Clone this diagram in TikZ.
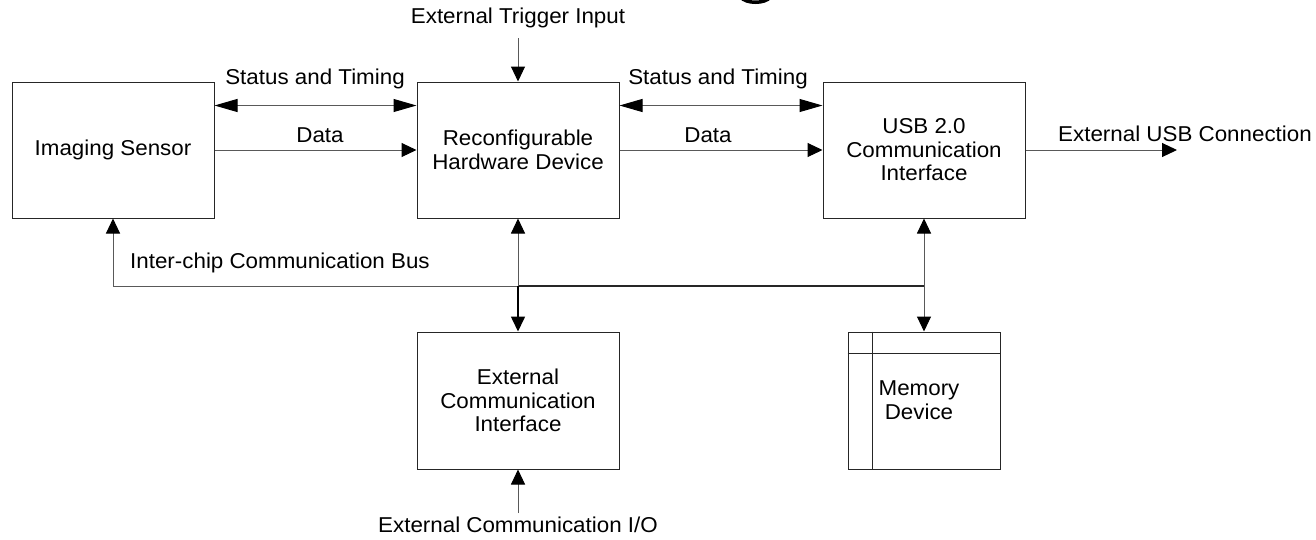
\documentclass[tikz,border=0pt]{standalone}
\usepackage{fontspec}
\setmainfont{Liberation Sans}[FakeStretch=1.04]
\usetikzlibrary{arrows.meta}
\newcommand\lblfont{\fontsize{21.5}{23.5}\selectfont}
\begin{document}
\begin{tikzpicture}[x=1pt,y=-1pt,
  box/.style={draw=black!85, line width=1pt, minimum width=202pt, minimum height=136pt, inner sep=0pt, align=center, font=\lblfont},
  lbl/.style={inner sep=0pt, align=center, font=\lblfont},
  conn/.style={draw=black!65, line width=1pt},
  darkconn/.style={draw=black, line width=1.6pt},
  tip/.tip={Triangle[length=15pt,width=14pt,color=black]},
  stip/.tip={Triangle[length=23pt,width=13pt,color=black]}]
\useasboundingbox (0,0) rectangle (1316,539);
% cut-off fragment of the title glyph at the top edge
\begin{scope}
  \clip (0,0) rectangle (1316,539);
  \draw[line width=3.5pt, line cap=round] (741,-3) .. controls (745,4) and (766,4) .. (770,-3);
\end{scope}
% boxes
\node[box] (img) at (113,150) {Imaging Sensor};
\node[box] (rhd) at (518,150) {Reconfigurable\\Hardware Device};
\node[box] (usb) at (924,150) {USB 2.0\\Communication\\Interface};
\node[box, minimum height=137pt] (eci) at (518,400.5) {External\\Communication\\Interface};
\node[box, minimum width=152pt, minimum height=137pt] (mem) at (924,400.5) {};
\node[lbl] (memt) at (919,400) {Memory\\Device};
\draw[draw=black!85, line width=1pt] ([xshift=25pt]mem.north west) -- ([xshift=25pt]mem.south west);
\draw[draw=black!85, line width=1pt] ([yshift=-22pt]mem.north west) -- ([yshift=-22pt]mem.north east);
% horizontal connectors
\draw[conn, stip-stip] ([yshift=-24pt]img.north east) -- ([yshift=-24pt]rhd.north west);
\draw[conn, -tip] (img.east) -- (rhd.west);
\draw[conn, stip-stip] ([yshift=-24pt]rhd.north east) -- ([yshift=-24pt]usb.north west);
\draw[conn, -tip] (rhd.east) -- (usb.west);
\coordinate (usbout) at (1177,150);
\draw[conn, -tip] (usb.east) -- (usbout);
\node[lbl] (st1) at (315,79) {Status and Timing};
\node[lbl] (d1) at (320,135) {Data};
\node[lbl] (st2) at (718,79) {Status and Timing};
\node[lbl] (d2) at (708,135) {Data};
\node[lbl] (usbl) at (1185,134) {External USB Connection};
% trigger
\node[lbl] (trig) at (518,18) {External Trigger Input};
\coordinate (trigs) at (518,38);
\draw[conn, -tip] (trigs) -- (rhd.north);
% ext io
\node[lbl] (eio) at (518,525) {External Communication I/O};
\coordinate (eios) at (518,513);
\draw[conn, -tip] (eios) -- (eci.south);
% bus
\coordinate (b1) at (113,286);
\coordinate (b2) at (518,286);
\coordinate (b3) at (924,286);
\draw[conn] (b1) -- (b2);
\draw[draw=black!85, line width=1.3pt] (b2) -- (b3);
\draw[conn, -tip] (b1) -- (img.south);
\draw[conn, -tip] (b2) -- (rhd.south);
\draw[darkconn, -tip] (b2) -- (eci.north);
\draw[conn, tip-tip] (usb.south) -- (mem.north);
\node[lbl, anchor=west] (bus) at (130,263) {Inter-chip Communication Bus};
\end{tikzpicture}
\end{document}
